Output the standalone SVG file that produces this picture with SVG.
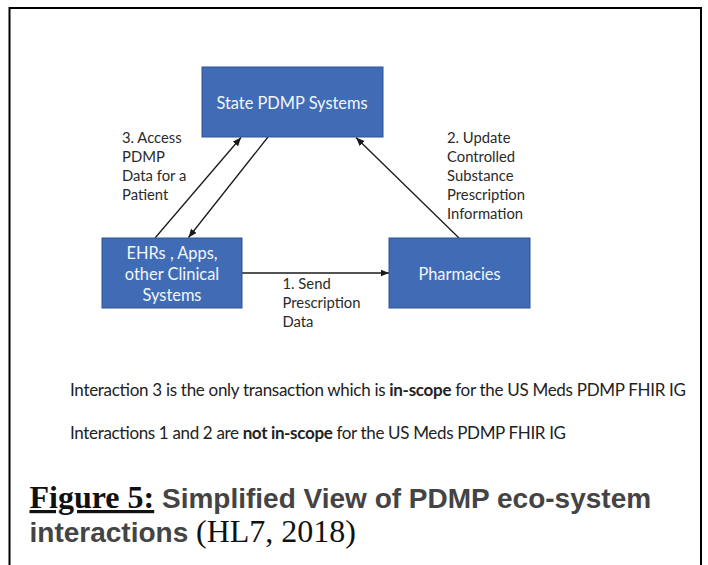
<svg xmlns="http://www.w3.org/2000/svg" width="708" height="565" viewBox="0 0 708 565">
<defs>
<style>
.box{fill:#3F6CB5;stroke:#2F5597;stroke-width:1}
.bt{font-family:Lato,"Liberation Sans",sans-serif;font-size:16.4px;fill:#F4F6FA;text-anchor:middle}
.lb{font-family:Lato,"Liberation Sans",sans-serif;font-size:14.8px;fill:#2A2A2A}
.nt{font-family:Lato,"Liberation Sans",sans-serif;font-size:17px;fill:#222}
.cn{fill:none;stroke:#1A1A1A;stroke-width:1.3}
.cap{font-family:"Liberation Sans",Arial,sans-serif;font-weight:bold;font-size:28px;fill:#444}
.tm{font-family:"Liberation Serif","Times New Roman",serif;font-size:32px;fill:#111}
</style>
<marker id="ah" markerUnits="userSpaceOnUse" markerWidth="9" markerHeight="8" refX="8.5" refY="3.5" orient="auto">
<path d="M0,0 L8.5,3.5 L0,7 z" fill="#1A1A1A"/>
</marker>
</defs>
<rect x="0" y="0" width="708" height="565" fill="#FFFFFF"/>
<path d="M9.5,565 V8 H701 V565" fill="none" stroke="#000" stroke-width="2"/>

<g id="connectors">
<path class="cn" d="M242,273 L389,273" marker-end="url(#ah)"/>
<path class="cn" d="M155,238 L241,137.5" marker-end="url(#ah)"/>
<path class="cn" d="M268,137 L188.5,237.5" marker-end="url(#ah)"/>
<path class="cn" d="M459,238 L356,137.5" marker-end="url(#ah)"/>
</g>

<g id="node-state-pdmp">
<rect class="box" x="202" y="67" width="181" height="70"/>
<text class="bt" x="292" y="109">State PDMP Systems</text>
</g>

<g id="node-ehr">
<rect class="box" x="102" y="238" width="140" height="70"/>
<text class="bt" x="172" y="259">EHRs , Apps,</text>
<text class="bt" x="172" y="280">other Clinical</text>
<text class="bt" x="172" y="301">Systems</text>
</g>

<g id="node-pharmacies">
<rect class="box" x="389" y="238" width="141" height="70"/>
<text class="bt" x="459.5" y="280">Pharmacies</text>
</g>

<g id="labels">
<text class="lb" x="122" y="143">3. Access</text>
<text class="lb" x="122" y="162">PDMP</text>
<text class="lb" x="122" y="181">Data for a</text>
<text class="lb" x="122" y="200">Patient</text>
<text class="lb" x="447" y="143">2. Update</text>
<text class="lb" x="447" y="162">Controlled</text>
<text class="lb" x="447" y="181">Substance</text>
<text class="lb" x="447" y="200">Prescription</text>
<text class="lb" x="447" y="219">Information</text>
<text class="lb" x="282.5" y="289">1. Send</text>
<text class="lb" x="282.5" y="308">Prescription</text>
<text class="lb" x="282.5" y="327">Data</text>
</g>

<g id="notes">
<text class="nt" x="70" y="396" textLength="616">Interaction 3 is the only transaction which is <tspan font-weight="bold">in-scope</tspan> for the US Meds PDMP FHIR IG</text>
<text class="nt" x="70" y="439" textLength="496">Interactions 1 and 2 are <tspan font-weight="bold">not in-scope</tspan> for the US Meds PDMP FHIR IG</text>
</g>

<g id="caption">
<text x="29.5" y="508"><tspan class="tm" font-weight="bold" text-decoration="underline">Figure 5:</tspan><tspan class="cap"> Simplified View of PDMP eco-system</tspan></text>
<text x="29.5" y="542"><tspan class="cap">interactions </tspan><tspan class="tm">(HL7, 2018)</tspan></text>
</g>
</svg>
